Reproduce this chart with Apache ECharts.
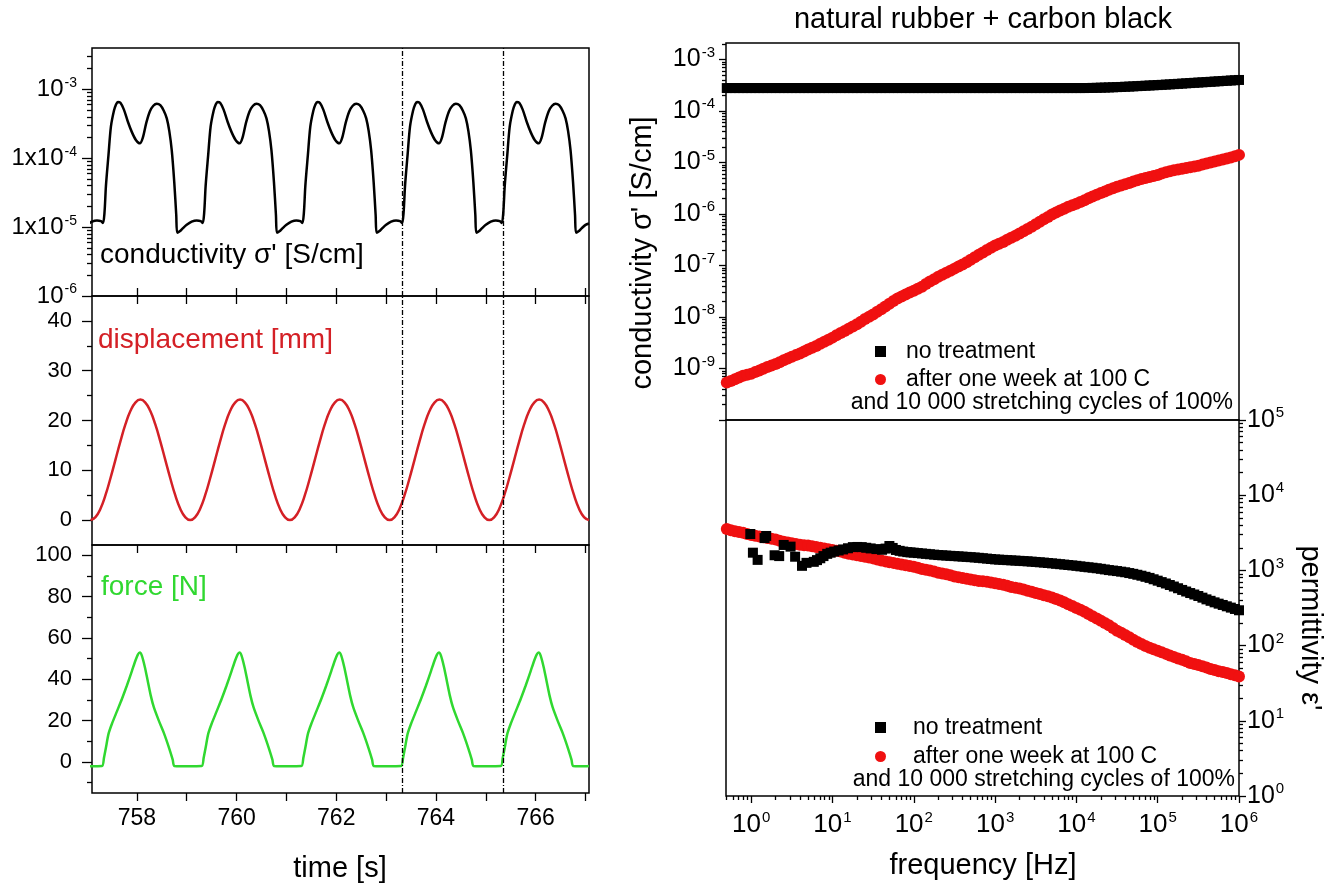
<!DOCTYPE html>
<html><head><meta charset="utf-8">
<script src="https://cdn.jsdelivr.net/npm/echarts@6/dist/echarts.min.js"></script>
<style>html,body{margin:0;padding:0;background:#fff}#c{width:1334px;height:884px}</style>
</head><body><div id="c"></div>
<script>
// ---------------- LEFT: time traces ----------------
const condTime = [
757.00,757.10,757.20,757.28,757.32,757.35,757.38,757.43,757.48,757.54,757.58,757.62,757.67,757.74,757.82,757.90,757.98,758.06,758.12,758.19,758.26,758.33,758.40,758.47,758.54,758.60,758.65,758.70,758.75,758.79,758.81,758.86,758.92,
759.00,759.10,759.20,759.28,759.32,759.35,759.38,759.43,759.48,759.54,759.58,759.62,759.67,759.74,759.82,759.90,759.98,760.06,760.12,760.19,760.26,760.33,760.40,760.47,760.54,760.60,760.65,760.70,760.75,760.79,760.81,760.86,760.92,
761.00,761.10,761.20,761.28,761.32,761.35,761.38,761.43,761.48,761.54,761.58,761.62,761.67,761.74,761.82,761.90,761.98,762.06,762.12,762.19,762.26,762.33,762.40,762.47,762.54,762.60,762.65,762.70,762.75,762.79,762.81,762.86,762.92,
763.00,763.10,763.20,763.28,763.32,763.35,763.38,763.43,763.48,763.54,763.58,763.62,763.67,763.74,763.82,763.90,763.98,764.06,764.12,764.19,764.26,764.33,764.40,764.47,764.54,764.60,764.65,764.70,764.75,764.79,764.81,764.86,764.92,
765.00,765.10,765.20,765.28,765.32,765.35,765.38,765.43,765.48,765.54,765.58,765.62,765.67,765.74,765.82,765.90,765.98,766.06,766.12,766.19,766.26,766.33,766.40,766.47,766.54,766.60,766.65,766.70,766.75,766.79,766.81,766.86,766.92,
767.00,767.07];
const condValue = [
1.08e-5,1.2e-5,1.25e-5,1.22e-5,1.15e-5,1.6e-5,4e-5,1.1e-4,2.9e-4,4.9e-4,6.0e-4,6.6e-4,6.4e-4,5.1e-4,3.4e-4,2.4e-4,1.85e-4,1.65e-4,2.0e-4,3.3e-4,4.8e-4,5.8e-4,6.2e-4,5.9e-4,4.9e-4,3.8e-4,2.5e-4,1.3e-4,4.5e-5,1.5e-5,8.3e-6,8.7e-6,9.6e-6,
1.08e-5,1.2e-5,1.25e-5,1.22e-5,1.15e-5,1.6e-5,4e-5,1.1e-4,2.9e-4,4.9e-4,6.0e-4,6.6e-4,6.4e-4,5.1e-4,3.4e-4,2.4e-4,1.85e-4,1.65e-4,2.0e-4,3.3e-4,4.8e-4,5.8e-4,6.2e-4,5.9e-4,4.9e-4,3.8e-4,2.5e-4,1.3e-4,4.5e-5,1.5e-5,8.3e-6,8.7e-6,9.6e-6,
1.08e-5,1.2e-5,1.25e-5,1.22e-5,1.15e-5,1.6e-5,4e-5,1.1e-4,2.9e-4,4.9e-4,6.0e-4,6.6e-4,6.4e-4,5.1e-4,3.4e-4,2.4e-4,1.85e-4,1.65e-4,2.0e-4,3.3e-4,4.8e-4,5.8e-4,6.2e-4,5.9e-4,4.9e-4,3.8e-4,2.5e-4,1.3e-4,4.5e-5,1.5e-5,8.3e-6,8.7e-6,9.6e-6,
1.08e-5,1.2e-5,1.25e-5,1.22e-5,1.15e-5,1.6e-5,4e-5,1.1e-4,2.9e-4,4.9e-4,6.0e-4,6.6e-4,6.4e-4,5.1e-4,3.4e-4,2.4e-4,1.85e-4,1.65e-4,2.0e-4,3.3e-4,4.8e-4,5.8e-4,6.2e-4,5.9e-4,4.9e-4,3.8e-4,2.5e-4,1.3e-4,4.5e-5,1.5e-5,8.3e-6,8.7e-6,9.6e-6,
1.08e-5,1.2e-5,1.25e-5,1.22e-5,1.15e-5,1.6e-5,4e-5,1.1e-4,2.9e-4,4.9e-4,6.0e-4,6.6e-4,6.4e-4,5.1e-4,3.4e-4,2.4e-4,1.85e-4,1.65e-4,2.0e-4,3.3e-4,4.8e-4,5.8e-4,6.2e-4,5.9e-4,4.9e-4,3.8e-4,2.5e-4,1.3e-4,4.5e-5,1.5e-5,8.3e-6,8.7e-6,9.6e-6,
1.08e-5,1.13e-5];

const dispTime = [
757.07,757.17,757.27,757.37,757.47,757.57,757.67,757.77,757.87,757.97,758.07,758.17,758.27,758.37,758.47,758.57,758.67,758.77,758.87,758.97,
759.07,759.17,759.27,759.37,759.47,759.57,759.67,759.77,759.87,759.97,760.07,760.17,760.27,760.37,760.47,760.57,760.67,760.77,760.87,760.97,
761.07,761.17,761.27,761.37,761.47,761.57,761.67,761.77,761.87,761.97,762.07,762.17,762.27,762.37,762.47,762.57,762.67,762.77,762.87,762.97,
763.07,763.17,763.27,763.37,763.47,763.57,763.67,763.77,763.87,763.97,764.07,764.17,764.27,764.37,764.47,764.57,764.67,764.77,764.87,764.97,
765.07,765.17,765.27,765.37,765.47,765.57,765.67,765.77,765.87,765.97,766.07,766.17,766.27,766.37,766.47,766.57,766.67,766.77,766.87,766.97,
767.07];
const dispValue = [
0,0.6,2.3,5.0,8.4,12.1,15.8,19.2,21.9,23.6,24.2,23.6,21.9,19.2,15.8,12.1,8.4,5.0,2.3,0.6,
0,0.6,2.3,5.0,8.4,12.1,15.8,19.2,21.9,23.6,24.2,23.6,21.9,19.2,15.8,12.1,8.4,5.0,2.3,0.6,
0,0.6,2.3,5.0,8.4,12.1,15.8,19.2,21.9,23.6,24.2,23.6,21.9,19.2,15.8,12.1,8.4,5.0,2.3,0.6,
0,0.6,2.3,5.0,8.4,12.1,15.8,19.2,21.9,23.6,24.2,23.6,21.9,19.2,15.8,12.1,8.4,5.0,2.3,0.6,
0,0.6,2.3,5.0,8.4,12.1,15.8,19.2,21.9,23.6,24.2,23.6,21.9,19.2,15.8,12.1,8.4,5.0,2.3,0.6,
0];

const forceTime = [
757.00,757.30,757.34,757.38,757.43,757.50,757.60,757.70,757.80,757.90,757.97,758.02,758.06,758.10,758.16,758.22,758.28,758.34,758.44,758.55,758.65,758.72,758.75,758.90,
759.00,759.30,759.34,759.38,759.43,759.50,759.60,759.70,759.80,759.90,759.97,760.02,760.06,760.10,760.16,760.22,760.28,760.34,760.44,760.55,760.65,760.72,760.75,760.90,
761.00,761.30,761.34,761.38,761.43,761.50,761.60,761.70,761.80,761.90,761.97,762.02,762.06,762.10,762.16,762.22,762.28,762.34,762.44,762.55,762.65,762.72,762.75,762.90,
763.00,763.30,763.34,763.38,763.43,763.50,763.60,763.70,763.80,763.90,763.97,764.02,764.06,764.10,764.16,764.22,764.28,764.34,764.44,764.55,764.65,764.72,764.75,764.90,
765.00,765.30,765.34,765.38,765.43,765.50,765.60,765.70,765.80,765.90,765.97,766.02,766.06,766.10,766.16,766.22,766.28,766.34,766.44,766.55,766.65,766.72,766.75,766.90,
767.00,767.07];
const forceValue = [
-2.0,-1.9,2,7,13.5,18.5,24.5,30.5,37,44,49,52,53,51.5,46,39,32,26.5,20,13.5,6.5,1,-1.9,-2.0,
-2.0,-1.9,2,7,13.5,18.5,24.5,30.5,37,44,49,52,53,51.5,46,39,32,26.5,20,13.5,6.5,1,-1.9,-2.0,
-2.0,-1.9,2,7,13.5,18.5,24.5,30.5,37,44,49,52,53,51.5,46,39,32,26.5,20,13.5,6.5,1,-1.9,-2.0,
-2.0,-1.9,2,7,13.5,18.5,24.5,30.5,37,44,49,52,53,51.5,46,39,32,26.5,20,13.5,6.5,1,-1.9,-2.0,
-2.0,-1.9,2,7,13.5,18.5,24.5,30.5,37,44,49,52,53,51.5,46,39,32,26.5,20,13.5,6.5,1,-1.9,-2.0,
-2.0,-1.9];

const markTimes = [763.33, 765.34];
const timeTicks = [758,759,760,761,762,763,764,765,766,767];
const timeLabels = [758,760,762,764,766];
const condTicks = [1e-6,1e-5,1e-4,1e-3];
const dispTicks = [0,10,20,30,40];
const dispMinor = [5,15,25,35];
const forceTicks = [0,20,40,60,80,100];
const forceMinor = [-10,10,30,50,70,90];

// ---------------- RIGHT: dielectric spectra ----------------
const freq = [0.501,0.562,0.631,0.708,0.794,0.891,
1.00,1.12,1.26,1.41,1.58,1.78,2.00,2.24,2.51,2.82,3.16,3.55,3.98,4.47,5.01,5.62,6.31,7.08,7.94,8.91,
10.0,11.2,12.6,14.1,15.8,17.8,20.0,22.4,25.1,28.2,31.6,35.5,39.8,44.7,50.1,56.2,63.1,70.8,79.4,89.1,
100,112,126,141,158,178,200,224,251,282,316,355,398,447,501,562,631,708,794,891,
1000,1120,1260,1410,1580,1780,2000,2240,2510,2820,3160,3550,3980,4470,5010,5620,6310,7080,7940,8910,
10000,11200,12600,14100,15800,17800,20000,22400,25100,28200,31600,35500,39800,44700,50100,56200,63100,70800,79400,89100,
100000,112000,126000,141000,158000,178000,200000,224000,251000,282000,316000,355000,398000,447000,501000,562000,631000,708000,794000,891000,
1000000];
const condNoTreat = [2.8e-4,2.8e-4,2.8e-4,2.8e-4,2.8e-4,2.8e-4,
2.8e-4,2.8e-4,2.8e-4,2.8e-4,2.8e-4,2.8e-4,2.8e-4,2.8e-4,2.8e-4,2.8e-4,2.8e-4,2.8e-4,2.8e-4,2.8e-4,2.8e-4,2.8e-4,2.8e-4,2.8e-4,2.8e-4,2.8e-4,
2.8e-4,2.8e-4,2.8e-4,2.8e-4,2.8e-4,2.8e-4,2.8e-4,2.8e-4,2.8e-4,2.8e-4,2.8e-4,2.8e-4,2.8e-4,2.8e-4,2.8e-4,2.8e-4,2.8e-4,2.8e-4,2.8e-4,2.8e-4,
2.8e-4,2.8e-4,2.8e-4,2.8e-4,2.8e-4,2.8e-4,2.8e-4,2.8e-4,2.8e-4,2.8e-4,2.8e-4,2.8e-4,2.8e-4,2.8e-4,2.8e-4,2.8e-4,2.8e-4,2.8e-4,2.8e-4,2.8e-4,
2.8e-4,2.8e-4,2.8e-4,2.8e-4,2.8e-4,2.8e-4,2.8e-4,2.8e-4,2.8e-4,2.8e-4,2.8e-4,2.8e-4,2.8e-4,2.8e-4,2.8e-4,2.8e-4,2.8e-4,2.8e-4,2.8e-4,2.8e-4,
2.8e-4,2.8e-4,2.8e-4,2.81e-4,2.82e-4,2.83e-4,2.85e-4,2.86e-4,2.88e-4,2.9e-4,2.92e-4,2.94e-4,2.97e-4,2.99e-4,3.02e-4,3.05e-4,3.08e-4,3.11e-4,3.14e-4,3.17e-4,
3.2e-4,3.23e-4,3.27e-4,3.3e-4,3.34e-4,3.38e-4,3.42e-4,3.46e-4,3.5e-4,3.54e-4,3.58e-4,3.62e-4,3.66e-4,3.7e-4,3.75e-4,3.79e-4,3.84e-4,3.88e-4,3.93e-4,3.97e-4,
4.02e-4];
const condAfter = [5.37e-10,5.75e-10,6.17e-10,6.68e-10,7.24e-10,7.59e-10,
7.94e-10,8.51e-10,9.12e-10,9.89e-10,1.07e-9,1.15e-9,1.23e-9,1.33e-9,1.45e-9,1.57e-9,1.70e-9,1.82e-9,1.95e-9,2.14e-9,2.34e-9,2.54e-9,2.75e-9,3.02e-9,3.31e-9,3.63e-9,
3.98e-9,4.42e-9,4.90e-9,5.37e-9,5.89e-9,6.53e-9,7.24e-9,8.13e-9,9.12e-9,1.01e-8,1.12e-8,1.26e-8,1.41e-8,1.60e-8,1.82e-8,2.04e-8,2.29e-8,2.51e-8,2.75e-8,2.99e-8,
3.24e-8,3.55e-8,3.89e-8,4.37e-8,4.90e-8,5.43e-8,6.03e-8,6.61e-8,7.24e-8,7.94e-8,8.71e-8,9.55e-8,1.05e-7,1.16e-7,1.29e-7,1.45e-7,1.62e-7,1.80e-7,2.00e-7,2.21e-7,
2.45e-7,2.66e-7,2.88e-7,3.16e-7,3.47e-7,3.80e-7,4.17e-7,4.62e-7,5.13e-7,5.69e-7,6.31e-7,7.08e-7,7.94e-7,8.81e-7,9.77e-7,1.07e-6,1.17e-6,1.27e-6,1.38e-6,1.48e-6,
1.58e-6,1.72e-6,1.86e-6,2.02e-6,2.19e-6,2.37e-6,2.57e-6,2.75e-6,2.95e-6,3.16e-6,3.39e-6,3.59e-6,3.80e-6,4.03e-6,4.27e-6,4.52e-6,4.79e-6,5.01e-6,5.25e-6,5.50e-6,
5.75e-6,6.10e-6,6.46e-6,6.76e-6,7.08e-6,7.33e-6,7.59e-6,7.85e-6,8.13e-6,8.41e-6,8.71e-6,9.12e-6,9.55e-6,1.00e-5,1.05e-5,1.10e-5,1.15e-5,1.20e-5,1.26e-5,1.33e-5,
1.41e-5];
const permAfter = [3550,3430,3310,3240,3160,3055,
2951,2884,2818,2754,2692,2630,2570,2483,2399,2344,2291,2239,2188,2163,2138,2089,2042,1995,1950,1905,
1862,1820,1778,1718,1660,1622,1585,1549,1514,1479,1445,1396,1349,1318,1288,1259,1230,1202,1175,1148,
1122,1084,1047,1023,1000,966,933,912,891,861,832,813,794,776,759,741,724,716,708,692,
676,661,646,624,603,589,575,556,537,519,501,484,468,452,437,417,398,376,355,335,
316,299,282,263,245,229,214,200,186,172,158,148,138,129,120,112,105,98.9,93.3,89.1,
85.1,81.3,77.6,74.1,70.8,67.6,64.6,61.7,58.9,56.9,55.0,53.1,51.3,49.0,47.3,45.7,44.7,43.2,41.7,40.3,
38.9];
const permNoTreatFreq = [0.975,1.05,1.2,1.46,1.53,1.94,2.21,2.51,3.05,3.47,4.22,4.79,5.89,6.45,7.08,7.75,8.61,9.5,
10.5,11.9,13.5,15.5,17.8,20.2,22.9,26.0,29.5,34.7,40.7,45.0,50.1,55.0,60.3,67.0,74.1,83.2,91.2,
100,112,126,141,158,178,200,224,251,282,316,355,398,447,501,562,631,708,794,891,
1000,1120,1260,1410,1580,1780,2000,2240,2510,2820,3160,3550,3980,4470,5010,5620,6310,7080,7940,8910,
10000,11200,12600,14100,15800,17800,20000,22400,25100,28200,31600,35500,39800,44700,50100,56200,63100,70800,79400,89100,
100000,112000,126000,141000,158000,178000,200000,224000,251000,282000,316000,355000,398000,447000,501000,562000,631000,708000,794000,891000,
1000000];
const permNoTreat = [3050,1720,1380,2690,2870,1590,1550,2180,2070,1520,1150,1260,1300,1370,1450,1550,1660,1720,
1780,1840,1900,1970,2040,2050,2040,2000,1960,1920,1880,1950,2110,1990,1870,1820,1780,1750,1735,
1720,1700,1680,1660,1640,1620,1600,1588,1575,1562,1550,1538,1525,1512,1500,1485,1470,1452,1435,1418,
1400,1390,1380,1370,1360,1350,1340,1330,1320,1308,1295,1282,1270,1255,1240,1225,1210,1195,1180,1165,
1150,1132,1115,1100,1085,1068,1050,1030,1010,995,980,962,945,922,900,875,850,822,795,762,
730,699,670,639,610,579,550,524,500,478,457,434,412,394,376,361,347,333,320,307,
295];
const freqDecades = [1,10,100,1e3,1e4,1e5,1e6];
const sigmaTicks = [1e-10,1e-9,1e-8,1e-7,1e-6,1e-5,1e-4,1e-3];
const sigmaLabels = [1e-9,1e-8,1e-7,1e-6,1e-5,1e-4,1e-3];
const epsTicks = [1,10,100,1e3,1e4,1e5];

// ---------------- styling helpers ----------------
const FONT = '"Liberation Sans", Arial, Helvetica, sans-serif';
const RED = '#d42026', GREEN = '#30d830', SRED = '#f01010';
const tickLine = {color:'#000', width:1.3};
function logMinor(lo, hi) {
  const out = [];
  for (let e = -12; e <= 7; e++) for (let m = 2; m <= 9; m++) {
    const v = m * Math.pow(10, e);
    if (v > lo * 1.0001 && v < hi * 0.9999) out.push(v);
  }
  return out;
}
function supRich(base, sup, raise) {
  return {
    b: {fontSize: base, fontFamily: FONT, color: '#000'},
    s: {fontSize: sup, fontFamily: FONT, color: '#000', padding: [0, 0, raise, 1]}
  };
}
const powFmt = v => '{b|10}{s|' + Math.round(Math.log10(v)) + '}';
const leftPowFmt = v => {
  const e = Math.round(Math.log10(v));
  return '{b|' + ((e === -4 || e === -5) ? '1x' : '') + '10}{s|' + e + '}';
};
const noLine = {show: false, onZero: false};
const off = {show: false};

const tBase = {type: 'value', min: 757.1, max: 767.07, axisLine: noLine, splitLine: off, axisLabel: off, minorTick: off};
const fBase = {type: 'log', logBase: 10, min: 0.49, max: 1e6, axisLine: noLine, splitLine: off, axisLabel: off, axisTick: off, minorTick: off};

const xAxis = [
  Object.assign({}, tBase, {gridIndex: 0, position: 'bottom', axisTick: {show: true, inside: true, length: 8, customValues: timeTicks, lineStyle: tickLine}}),
  Object.assign({}, tBase, {gridIndex: 1, position: 'bottom', axisTick: off}),
  Object.assign({}, tBase, {gridIndex: 1, position: 'top', axisTick: {show: true, inside: true, length: 8, customValues: timeTicks, lineStyle: tickLine}}),
  Object.assign({}, tBase, {gridIndex: 2, position: 'bottom',
    axisTick: {show: true, inside: false, length: 8, customValues: timeTicks, lineStyle: tickLine},
    axisLabel: {show: true, customValues: timeLabels, fontSize: 23, fontFamily: FONT, color: '#000', margin: 14}}),
  Object.assign({}, tBase, {gridIndex: 2, position: 'top', axisTick: {show: true, inside: true, length: 8, customValues: timeTicks, lineStyle: tickLine}}),
  Object.assign({}, fBase, {gridIndex: 3, position: 'bottom'}),
  Object.assign({}, fBase, {gridIndex: 4, position: 'bottom',
    axisTick: {show: true, inside: false, length: 7, customValues: freqDecades, lineStyle: tickLine},
    axisLabel: {show: true, customValues: freqDecades, formatter: powFmt, rich: supRich(26, 15, 14), margin: 14}}),
  Object.assign({}, fBase, {gridIndex: 4, position: 'bottom',
    axisTick: {show: true, inside: false, length: 4, customValues: logMinor(0.49, 1e6), lineStyle: tickLine}})
];

const yAxis = [
  {type: 'log', logBase: 10, gridIndex: 0, position: 'left', min: 1e-6, max: 4e-3, axisLine: noLine, splitLine: off, minorTick: off,
   axisTick: {show: true, length: 10, customValues: condTicks, lineStyle: tickLine},
   axisLabel: {show: true, customValues: condTicks, formatter: leftPowFmt, rich: supRich(24, 14, 13), margin: 15}},
  {type: 'log', logBase: 10, gridIndex: 0, position: 'left', min: 1e-6, max: 4e-3, axisLine: noLine, splitLine: off, minorTick: off, axisLabel: off,
   axisTick: {show: true, length: 5, customValues: logMinor(1e-6, 4e-3), lineStyle: tickLine}},
  {type: 'value', gridIndex: 1, position: 'left', min: -5, max: 45, axisLine: noLine, splitLine: off, minorTick: off,
   axisTick: {show: true, length: 10, customValues: dispTicks, lineStyle: tickLine},
   axisLabel: {show: true, customValues: dispTicks, fontSize: 22, fontFamily: FONT, color: '#000', margin: 20}},
  {type: 'value', gridIndex: 1, position: 'left', min: -5, max: 45, axisLine: noLine, splitLine: off, minorTick: off, axisLabel: off,
   axisTick: {show: true, length: 5, customValues: dispMinor, lineStyle: tickLine}},
  {type: 'value', gridIndex: 2, position: 'left', min: -15, max: 105, axisLine: noLine, splitLine: off, minorTick: off,
   axisTick: {show: true, length: 10, customValues: forceTicks, lineStyle: tickLine},
   axisLabel: {show: true, customValues: forceTicks, fontSize: 22, fontFamily: FONT, color: '#000', margin: 20}},
  {type: 'value', gridIndex: 2, position: 'left', min: -15, max: 105, axisLine: noLine, splitLine: off, minorTick: off, axisLabel: off,
   axisTick: {show: true, length: 5, customValues: forceMinor, lineStyle: tickLine}},
  {type: 'log', logBase: 10, gridIndex: 3, position: 'left', min: 1e-10, max: 2.1e-3, axisLine: noLine, splitLine: off, minorTick: off,
   axisTick: {show: true, length: 7, customValues: sigmaTicks, lineStyle: tickLine},
   axisLabel: {show: true, customValues: sigmaLabels, formatter: powFmt, rich: supRich(25, 15, 14), margin: 11}},
  {type: 'log', logBase: 10, gridIndex: 3, position: 'left', min: 1e-10, max: 2.1e-3, axisLine: noLine, splitLine: off, minorTick: off, axisLabel: off,
   axisTick: {show: true, length: 4, customValues: logMinor(1e-10, 2.1e-3), lineStyle: tickLine}},
  {type: 'log', logBase: 10, gridIndex: 4, position: 'right', min: 1, max: 1e5, axisLine: noLine, splitLine: off, minorTick: off,
   axisTick: {show: true, length: 7, customValues: epsTicks, lineStyle: tickLine},
   axisLabel: {show: true, customValues: epsTicks, formatter: powFmt, rich: supRich(25, 15, 14), margin: 8}},
  {type: 'log', logBase: 10, gridIndex: 4, position: 'right', min: 1, max: 1e5, axisLine: noLine, splitLine: off, minorTick: off, axisLabel: off,
   axisTick: {show: true, length: 4, customValues: logMinor(1, 1e5), lineStyle: tickLine}}
];

const gridStyle = {show: true, borderColor: '#000', borderWidth: 1.5, backgroundColor: 'transparent', containLabel: false};
const grid = [
  Object.assign({left: 92, top: 48, width: 497, height: 248}, gridStyle),
  Object.assign({left: 92, top: 296, width: 497, height: 249}, gridStyle),
  Object.assign({left: 92, top: 545, width: 497, height: 248}, gridStyle),
  Object.assign({left: 726, top: 43, width: 513, height: 377}, gridStyle),
  Object.assign({left: 726, top: 420, width: 513, height: 376}, gridStyle)
];

const vlines = {silent: true, symbol: ['none', 'none'], label: {show: false},
  lineStyle: {color: '#000', width: 1.3, type: [5, 2, 1, 2]}, emphasis: {disabled: true},
  data: markTimes.map(t => ({xAxis: t}))};

const pairs = (xs, ys) => xs.map((x, i) => [x, ys[i]]);

const series = [
  {type: 'line', name: 'conductivity', xAxisIndex: 0, yAxisIndex: 0, data: pairs(condTime, condValue),
   showSymbol: false, smooth: 0.3, lineStyle: {color: '#000', width: 2.5}, itemStyle: {color: '#000'}, markLine: vlines},
  {type: 'line', name: 'displacement', xAxisIndex: 1, yAxisIndex: 2, data: pairs(dispTime, dispValue),
   showSymbol: false, smooth: 0.5, lineStyle: {color: RED, width: 2.5}, itemStyle: {color: RED}, markLine: vlines},
  {type: 'line', name: 'force', xAxisIndex: 3, yAxisIndex: 4, data: pairs(forceTime, forceValue),
   showSymbol: false, smooth: 0.25, lineStyle: {color: GREEN, width: 2.5}, itemStyle: {color: GREEN}, markLine: vlines},
  {type: 'scatter', name: 'after one week at 100 C', xAxisIndex: 5, yAxisIndex: 6, data: pairs(freq, condAfter),
   symbol: 'circle', symbolSize: 12, itemStyle: {color: SRED, opacity: 1}},
  {type: 'scatter', name: 'no treatment', xAxisIndex: 5, yAxisIndex: 6, data: pairs(freq, condNoTreat),
   symbol: 'rect', symbolSize: 10, itemStyle: {color: '#000', opacity: 1}},
  {type: 'scatter', name: 'after one week at 100 C', xAxisIndex: 6, yAxisIndex: 8, data: pairs(freq, permAfter),
   symbol: 'circle', symbolSize: 12, itemStyle: {color: SRED, opacity: 1}},
  {type: 'scatter', name: 'no treatment', xAxisIndex: 6, yAxisIndex: 8, data: pairs(permNoTreatFreq, permNoTreat),
   symbol: 'rect', symbolSize: 10, itemStyle: {color: '#000', opacity: 1}}
];

const legendText = {fontSize: 23, fontFamily: FONT, color: '#000'};
const legend = [
  {left: 870, top: 335, orient: 'vertical', itemWidth: 11, itemHeight: 11, itemGap: 5, selectedMode: false,
   data: [{name: 'no treatment', icon: 'rect'}, {name: 'after one week at 100 C', icon: 'circle'}],
   textStyle: Object.assign({padding: [0, 0, 0, 15]}, legendText)},
  {left: 870, top: 711, orient: 'vertical', itemWidth: 11, itemHeight: 11, itemGap: 6, selectedMode: false,
   data: [{name: 'no treatment', icon: 'rect'}, {name: 'after one week at 100 C', icon: 'circle'}],
   textStyle: Object.assign({padding: [0, 0, 0, 22]}, legendText)}
];

function txt(text, x, y, size, opts) {
  return Object.assign({type: 'text', x: x, y: y, silent: true, z: 100,
    style: Object.assign({text: text, font: size + 'px ' + FONT, fill: '#000', textAlign: 'center', textVerticalAlign: 'middle'}, (opts && opts.style) || {})},
    (opts && opts.el) || {});
}
const graphic = [
  txt('natural rubber + carbon black', 983, 20, 29),
  txt("conductivity \u03c3' [S/cm]", 643, 253, 29, {el: {rotation: Math.PI / 2}}),
  txt("permittivity \u03b5'", 1310, 628, 29, {el: {rotation: -Math.PI / 2}}),
  txt('frequency [Hz]', 983, 866, 29),
  txt('time [s]', 340, 869, 29),
  txt("conductivity \u03c3' [S/cm]", 100, 255, 28, {style: {textAlign: 'left'}}),
  txt('displacement [mm]', 98, 340, 28, {style: {textAlign: 'left', fill: RED}}),
  txt('force [N]', 101, 587, 28, {style: {textAlign: 'left', fill: GREEN}}),
  txt('and 10 000 stretching cycles of 100%', 1233, 403, 23, {style: {textAlign: 'right'}}),
  txt('and 10 000 stretching cycles of 100%', 1235, 780, 23, {style: {textAlign: 'right'}})
];

const chart = echarts.init(document.getElementById('c'), null, {renderer: 'canvas'});
chart.setOption({
  animation: false,
  backgroundColor: '#fff',
  textStyle: {fontFamily: FONT},
  grid: grid, xAxis: xAxis, yAxis: yAxis, series: series, legend: legend, graphic: graphic
});
</script></body></html>
